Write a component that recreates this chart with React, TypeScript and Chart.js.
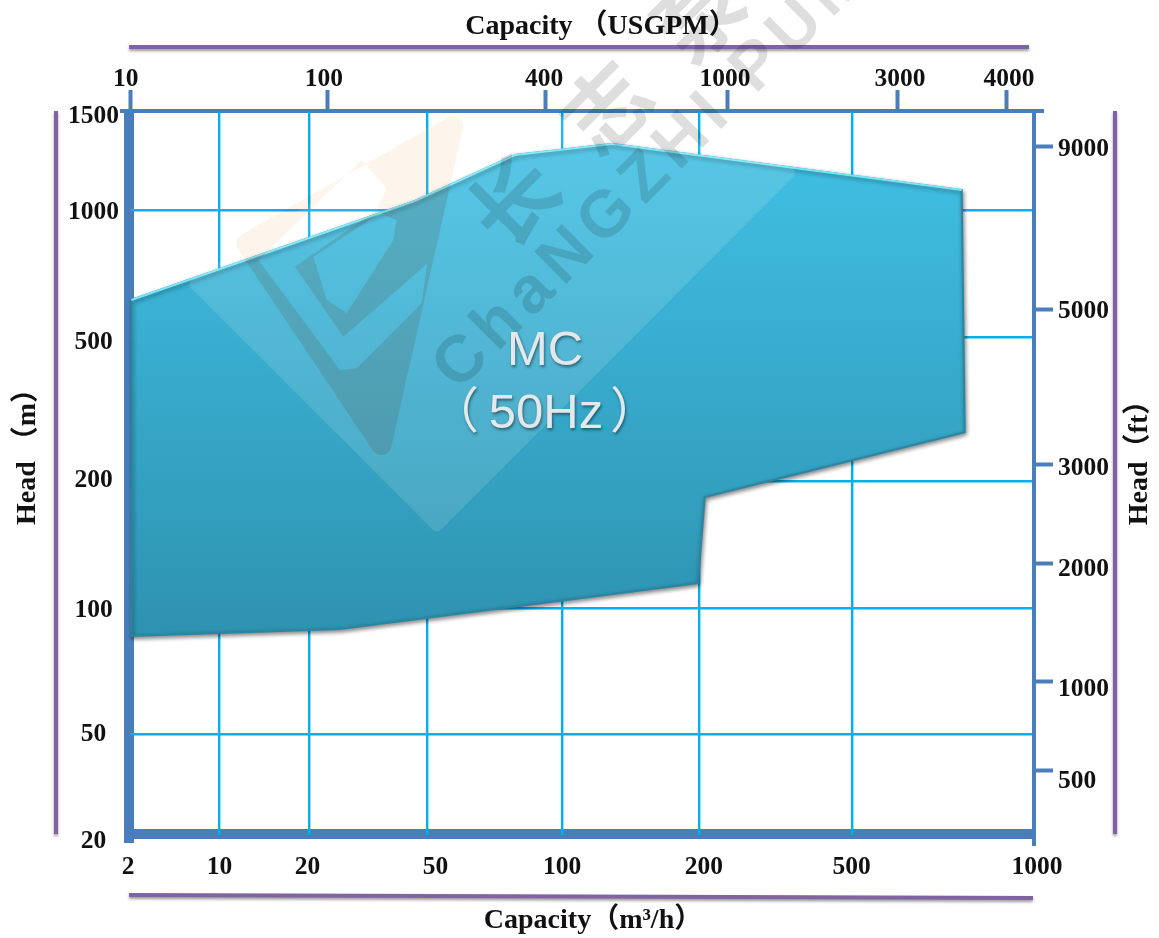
import React, { useEffect, useRef } from "react";
import { Chart, LinearScale, registerables } from "chart.js";

Chart.register(...registerables);

// ---- data ----
const capacityTicks = [2, 10, 20, 50, 100, 200, 500, 1000];
const headTicks = [20, 50, 100, 200, 500, 1000, 1500];
const usgpmTicks = [10, 100, 400, 1000, 3000, 4000];
const feetTicks = [500, 1000, 2000, 3000, 5000, 9000];

const envelopeCapacity = [2.05, 45.4, 78.5, 128.8, 762, 771, 207, 199, 25.3, 2.05, 2.05];
const envelopeHead = [612, 1038, 1255, 1314, 1086, 273, 183.3, 114.6, 89.1, 85.7, 612];
const upperEdgeCapacity = [2.05, 45.4, 78.5, 128.8, 762];
const upperEdgeHead = [612, 1038, 1255, 1314, 1086];

// ---- the printed axes are hand-spaced, so each has its own value/position anchors ----
const capacityAnchors = [2, 10, 20, 50, 100, 200, 500, 1000];
const capacityAnchorPos = [0, 0.0992, 0.199, 0.3298, 0.479, 0.6308, 0.8012, 1];
const headAnchors = [20, 50, 100, 200, 500, 1000, 1500];
const headAnchorPos = [0, 0.1397, 0.314, 0.4896, 0.6888, 0.8645, 1];
const usgpmAnchors = [9.9, 100, 400, 1000, 3000, 4000, 4500];
const usgpmAnchorPos = [0, 0.2195, 0.4601, 0.6619, 0.8514, 0.9712, 1];
const feetAnchors = [300, 500, 1000, 2000, 3000, 5000, 9000, 10000];
const feetAnchorPos = [0, 0.0899, 0.213, 0.3762, 0.5131, 0.7275, 0.9516, 1];

const BLUE = "#4A7EBB";
const GRID = "#00B0F0";
const PURPLE = "#8064A2";
const TICK_FONT = { family: "'Liberation Serif', serif", size: 25.5, weight: "bold" as const };
const TITLE_FONT = "bold 28px 'Liberation Serif', 'Noto Sans CJK SC', serif";

type AxisCfg = {
  anchors: number[];
  pos: number[];
  ticks: number[];
  nudge: [number, number][];
  title: { x: number; y: number; rot: number };
};

const AXES: Record<string, AxisCfg> = {
  x: {
    anchors: capacityAnchors,
    pos: capacityAnchorPos,
    ticks: capacityTicks,
    nudge: [[-2, 0], [0, 0], [-2, 0], [8, 0], [0, 0], [5, 0], [-1, 0], [5, 0]],
    title: { x: 593, y: 921, rot: 0 },
  },
  x2: {
    anchors: usgpmAnchors,
    pos: usgpmAnchorPos,
    ticks: usgpmTicks,
    nudge: [[-5, 6], [-4, 6], [-1, 6], [-2, 6], [2, 6], [3, 6]],
    title: { x: 601, y: 27, rot: 0 },
  },
  y: {
    anchors: headAnchors,
    pos: headAnchorPos,
    ticks: headTicks,
    nudge: [[0, 6], [0, 0], [0, 2], [0, -1], [0, 5], [0, 2], [0, 4]],
    title: { x: 28, y: 450, rot: -Math.PI / 2 },
  },
  y2: {
    anchors: feetAnchors,
    pos: feetAnchorPos,
    ticks: feetTicks,
    nudge: [[0, 11], [0, 8], [0, 6], [0, 4], [0, 2], [0, 2]],
    title: { x: 1140, y: 456, rot: -Math.PI / 2 },
  },
};

class AnchoredScale extends LinearScale {
  static id = "anchored";
  static defaults = LinearScale.defaults;

  cfg(): AxisCfg {
    return AXES[(this as any).id];
  }
  buildTicks() {
    const c = this.cfg();
    (this as any).min = c.anchors[0];
    (this as any).max = c.anchors[c.anchors.length - 1];
    return c.ticks.map((value) => ({ value }));
  }
  fraction(v: number) {
    const { anchors, pos } = this.cfg();
    if (v <= anchors[0]) return pos[0];
    for (let i = 1; i < anchors.length; i++) {
      if (v <= anchors[i]) {
        const t = Math.log(v / anchors[i - 1]) / Math.log(anchors[i] / anchors[i - 1]);
        return pos[i - 1] + t * (pos[i] - pos[i - 1]);
      }
    }
    return pos[pos.length - 1];
  }
  getPixelForValue(v: number) {
    return (this as any).getPixelForDecimal(this.fraction(v));
  }
  _computeLabelItems(chartArea: any) {
    const items = (LinearScale.prototype as any)._computeLabelItems.call(this, chartArea);
    const { nudge } = this.cfg();
    items.forEach((it: any, i: number) => {
      it.options.translation = [
        it.options.translation[0] + nudge[i][0],
        it.options.translation[1] + nudge[i][1],
      ];
    });
    return items;
  }
  drawTitle() {
    const self = this as any;
    const o = self.options.title;
    if (!o.display) return;
    const { x, y, rot } = this.cfg().title;
    const ctx = self.ctx;
    ctx.save();
    ctx.translate(x, y);
    ctx.rotate(rot);
    ctx.font = TITLE_FONT;
    ctx.fillStyle = "#111";
    ctx.textAlign = "center";
    ctx.textBaseline = "middle";
    ctx.fillText(o.text, 0, 0);
    ctx.restore();
  }
}
Chart.register(AnchoredScale as any);

function purpleLine(ctx: CanvasRenderingContext2D, x1: number, y1: number, x2: number, y2: number) {
  ctx.save();
  ctx.strokeStyle = PURPLE;
  ctx.lineWidth = 4;
  ctx.shadowColor = "rgba(0,0,0,0.4)";
  ctx.shadowBlur = 3;
  ctx.shadowOffsetY = 2;
  ctx.beginPath();
  ctx.moveTo(x1, y1);
  ctx.lineTo(x2, y2);
  ctx.stroke();
  ctx.restore();
}

function band(ctx: CanvasRenderingContext2D, x: number, y: number, w: number, h: number) {
  ctx.fillStyle = BLUE;
  ctx.fillRect(x, y, w, h);
}

function roundedPoly(ctx: CanvasRenderingContext2D, pts: number[][], r: number) {
  const n = pts.length;
  const mid = (a: number[], b: number[]) => [(a[0] + b[0]) / 2, (a[1] + b[1]) / 2];
  const s = mid(pts[n - 1], pts[0]);
  ctx.moveTo(s[0], s[1]);
  for (let i = 0; i < n; i++) {
    const a = pts[i];
    const b = pts[(i + 1) % n];
    ctx.arcTo(a[0], a[1], b[0], b[1], r);
  }
  ctx.closePath();
}

function logoPath(ctx: CanvasRenderingContext2D) {
  const z = (p: number[]) => [180 + p[0] / 3, 100 + p[1] / 3];
  ctx.beginPath();
  roundedPoly(ctx, [[232, 240], [468, 106], [386, 470]], 10);
  [
    [[235, 480], [545, 180], [620, 265], [590, 330], [345, 500], [490, 710], [680, 545], [742, 490], [725, 610], [530, 805], [480, 810]],
    [[400, 470], [600, 340], [650, 360], [640, 420], [500, 640], [440, 600]],
  ].forEach((hole) => {
    const p = hole.map(z);
    ctx.moveTo(p[0][0], p[0][1]);
    p.slice(1).forEach((q) => ctx.lineTo(q[0], q[1]));
    ctx.closePath();
  });
}

const frame = {
  id: "frame",
  beforeDraw(chart: any) {
    const ctx: CanvasRenderingContext2D = chart.ctx;
    ctx.save();
    ctx.fillStyle = "#fff";
    ctx.fillRect(0, 0, chart.width, chart.height);
    purpleLine(ctx, 129, 47, 1029, 47);
    purpleLine(ctx, 129, 895, 1033, 898);
    purpleLine(ctx, 56, 111, 56, 834);
    purpleLine(ctx, 1115, 111, 1115, 834);
    const { left, right, top, bottom } = chart.chartArea;
    band(ctx, left - 6, top, 10, bottom - top + 8);
    band(ctx, left - 6, bottom - 6, right - left + 7, 10);
    band(ctx, left - 10, top - 3, right - left + 22, 4);
    band(ctx, right, top - 3, 4, bottom - top + 14);
    ctx.restore();
  },
  beforeDatasetDraw(chart: any, args: any) {
    const ctx = chart.ctx;
    const body = args.index === 1;
    ctx.shadowColor = body ? "rgba(0,0,0,0.45)" : "rgba(0,0,0,0)";
    ctx.shadowBlur = body ? 4 : 0;
    ctx.shadowOffsetX = body ? 1 : 0;
    ctx.shadowOffsetY = body ? 2 : 0;
  },
  beforeDatasetsDraw(chart: any) {
    const ctx = chart.ctx;
    ctx.shadowColor = "rgba(0,0,0,0.45)";
    ctx.shadowBlur = 4;
    ctx.shadowOffsetX = 1;
    ctx.shadowOffsetY = 2;
  },
  afterDatasetsDraw(chart: any) {
    const ctx = chart.ctx;
    ctx.shadowColor = "rgba(0,0,0,0)";
    ctx.shadowBlur = 0;
    ctx.shadowOffsetX = 0;
    ctx.shadowOffsetY = 0;
  },
  afterDraw(chart: any) {
    const ctx: CanvasRenderingContext2D = chart.ctx;
    const { x: sx, y: sy } = chart.scales;
    ctx.save();

    // translucent white chevron of the watermark
    ctx.fillStyle = "rgba(255,255,255,0.12)";
    ctx.beginPath();
    roundedPoly(ctx, [[186, 283], [437, 534], [800, 170], [620, 114], [440, 120]], 6);
    ctx.fill();

    // logo wedge: very pale on paper ...
    ctx.globalCompositeOperation = "multiply";
    ctx.fillStyle = "rgb(253,244,236)";
    logoPath(ctx);
    ctx.fill("evenodd");
    ctx.globalCompositeOperation = "source-over";

    // ... and greyer where it crosses the envelope
    ctx.save();
    ctx.beginPath();
    envelopeCapacity.forEach((c, i) => {
      const px = sx.getPixelForValue(c);
      const py = sy.getPixelForValue(envelopeHead[i]);
      if (i === 0) ctx.moveTo(px, py);
      else ctx.lineTo(px, py);
    });
    ctx.closePath();
    ctx.clip();
    ctx.fillStyle = "rgba(90,110,130,0.18)";
    logoPath(ctx);
    ctx.fill("evenodd");
    ctx.restore();

    // watermark lettering
    ctx.fillStyle = "rgba(0,0,0,0.13)";
    ctx.textAlign = "left";
    ctx.textBaseline = "alphabetic";
    ctx.save();
    ctx.translate(458, 392);
    ctx.rotate(-Math.PI / 4);
    ctx.font = "bold 66px 'Liberation Sans', sans-serif";
    (ctx as any).letterSpacing = "8px";
    ctx.fillText("ChaNGZHI PUMP", 0, 0);
    ctx.restore();
    ctx.save();
    ctx.translate(506, 254);
    ctx.rotate(-Math.PI / 4);
    ctx.font = "bold 86px 'Noto Sans CJK SC', sans-serif";
    (ctx as any).letterSpacing = "45px";
    ctx.fillText("长志泵", 0, 0);
    ctx.restore();

    // region label
    ctx.textBaseline = "middle";
    ctx.font = "49px 'Liberation Sans', 'Noto Sans CJK SC', sans-serif";
    ctx.fillStyle = "#E4E8EA";
    ctx.shadowColor = "rgba(0,0,0,0.45)";
    ctx.shadowBlur = 3;
    ctx.shadowOffsetX = 1;
    ctx.shadowOffsetY = 2;
    ctx.textAlign = "center";
    ctx.fillText("MC", 545, 351);
    ctx.fillText("50Hz", 546, 414);
    ctx.textAlign = "left";
    ctx.fillText("（", 430, 414);
    ctx.fillText("）", 610, 414);
    ctx.restore();
  },
};

function verticalGradient(context: any, stops: [number, string][]) {
  const { chart } = context;
  const { ctx, chartArea, scales } = chart;
  if (!chartArea) return stops[0][1];
  const g = ctx.createLinearGradient(
    0,
    scales.y.getPixelForValue(Math.max(...envelopeHead)),
    0,
    scales.y.getPixelForValue(Math.min(...envelopeHead))
  );
  stops.forEach(([o, c]) => g.addColorStop(o, c));
  return g;
}

const hideEnds = (ends: number[]) => (c: any) =>
  c.tick && ends.includes(c.tick.value) ? "rgba(0,0,0,0)" : GRID;

const axisBase = (text: string) => ({
  type: "anchored",
  title: { display: true, text },
  border: { display: false },
  ticks: {
    autoSkip: false,
    maxRotation: 0,
    minRotation: 0,
    color: "#111",
    font: TICK_FONT,
    callback: (v: number) => String(v),
  },
});

export default function App() {
  const ref = useRef<HTMLCanvasElement | null>(null);

  useEffect(() => {
    document.body.style.margin = "0";
    const chart = new Chart(ref.current as HTMLCanvasElement, {
      type: "scatter",
      data: {
        datasets: [
          {
            label: "upper edge",
            data: upperEdgeCapacity.map((x, i) => ({ x, y: upperEdgeHead[i] })),
            xAxisID: "x",
            yAxisID: "y",
            showLine: true,
            fill: false,
            tension: 0,
            pointRadius: 0,
            borderWidth: 2,
            clip: false,
            borderColor: "#78E6F7",
          },
          {
            label: "MC (50Hz)",
            data: envelopeCapacity.map((x, i) => ({ x, y: envelopeHead[i] })),
            xAxisID: "x",
            yAxisID: "y",
            showLine: true,
            fill: "shape",
            tension: 0,
            pointRadius: 0,
            borderWidth: 2,
            clip: false,
            backgroundColor: (c: any) =>
              verticalGradient(c, [[0, "rgb(64,192,228)"], [1, "rgb(46,146,176)"]]),
            borderColor: "#2A86A2",
          },
        ],
      } as any,
      options: {
        animation: false,
        responsive: false,
        devicePixelRatio: 1,
        layout: { padding: 0 },
        plugins: { legend: { display: false }, tooltip: { enabled: false } },
        scales: {
          x: {
            ...axisBase("Capacity（m³/h）"),
            position: "bottom",
            afterFit: (s: any) => { s.height = 103; },
            grid: { color: hideEnds([2, 1000]), lineWidth: 2.4, drawTicks: false },
            ticks: { ...axisBase("").ticks, padding: 17 },
          },
          x2: {
            ...axisBase("Capacity （USGPM）"),
            position: "top",
            afterFit: (s: any) => { s.height = 112; },
            grid: { drawOnChartArea: false, tickColor: BLUE, tickWidth: 4, tickLength: 22, color: BLUE },
            ticks: { ...axisBase("").ticks, padding: 1 },
          },
          y: {
            ...axisBase("Head （m）"),
            position: "left",
            afterFit: (s: any) => { s.width = 130; },
            grid: { color: hideEnds([20, 1500]), lineWidth: 2.4, drawTicks: false },
            ticks: { ...axisBase("").ticks, crossAlign: "center", padding: 11 },
          },
          y2: {
            ...axisBase("Head（ft）"),
            position: "right",
            afterFit: (s: any) => { s.width = 127; },
            grid: { drawOnChartArea: false, tickColor: BLUE, tickWidth: 4, tickLength: 21, color: BLUE },
            ticks: { ...axisBase("").ticks, padding: 5 },
          },
        },
      } as any,
      plugins: [frame as any],
    });
    return () => chart.destroy();
  }, []);

  return (
    <canvas
      ref={ref}
      width={1159}
      height={938}
      style={{ position: "fixed", left: 0, top: 0, display: "block" }}
    />
  );
}
